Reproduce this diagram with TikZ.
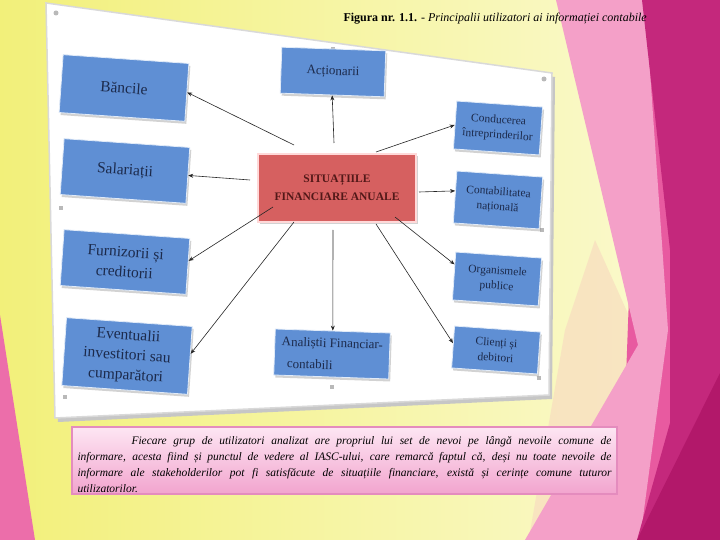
\documentclass[tikz,border=0pt]{standalone}
\usepackage{fontspec}
\setmainfont{Liberation Serif}
\usetikzlibrary{arrows.meta, positioning, shadows}

\definecolor{bgleft}{RGB}{242,240,122}
\definecolor{bgright}{RGB}{251,250,212}
\definecolor{peach}{RGB}{248,224,192}
\definecolor{pinklight}{RGB}{244,160,200}
\definecolor{pinkmid}{RGB}{232,90,160}
\definecolor{magenta1}{RGB}{196,40,124}
\definecolor{magenta2}{RGB}{178,24,106}
\definecolor{pinkleft}{RGB}{236,110,170}
\definecolor{boxblue}{RGB}{95,143,212}
\definecolor{boxedge}{RGB}{225,235,248}
\definecolor{boxtext}{RGB}{28,42,75}
\definecolor{boxred}{RGB}{214,96,96}
\definecolor{redtext}{RGB}{82,24,24}
\definecolor{notetop}{RGB}{253,230,243}
\definecolor{notebottom}{RGB}{242,164,206}
\definecolor{noteedge}{RGB}{228,140,190}

\begin{document}
\begin{tikzpicture}[x=1pt, y=-1pt]
  \useasboundingbox (0,0) rectangle (720,540);

  % Define styles for the boxes and arrows
  \tikzstyle{user}=[rectangle, fill=boxblue, draw=boxedge, line width=0.8pt, text=boxtext, align=center, inner sep=0pt,
                    drop shadow={shadow xshift=1.5pt, shadow yshift=-2.5pt, opacity=0.35}]
  \tikzstyle{leftcol}=[user, rotate=-4, minimum width=126pt, font=\fontsize{15.5}{20}\selectfont]
  \tikzstyle{rightcol}=[user, rotate=-4, minimum width=86pt, font=\fontsize{11.5}{15}\selectfont]
  \tikzstyle{midcol}=[user, rotate=-2, font=\fontsize{13}{22}\selectfont]
  \tikzstyle{arr}=[-{Stealth[length=5pt, width=4pt]}, line width=0.6pt, black!85]
  \tikzstyle{handle}=[fill=gray!55]

  % Slide background
  \shade[left color=bgleft, right color=bgright] (0,0) rectangle (720,540);
  \fill[pinkleft] (0,315) -- (35,540) -- (0,540) -- cycle;
  \fill[peach, opacity=0.8] (595,240) -- (642,345) -- (530,532) -- (565,330) -- cycle;
  \fill[pinkmid] (640,0) -- (690,0) -- (690,540) -- (620,540) -- cycle;
  \fill[pinklight] (556,0) -- (645,0) -- (668,330) -- (640,540) -- (525,540) -- (638,345) -- cycle;
  \fill[magenta1] (642,0) -- (720,0) -- (720,540) -- (637,540) -- (670,423) -- (670,250) -- cycle;
  \fill[magenta2] (720,373) -- (720,540) -- (637,540) -- cycle;

  % Caption
  \node[font=\fontsize{12}{14}\selectfont, anchor=west] (caption) at (340,19)
    {\textbf{Figura nr. 1.1.} - \textit{Principalii utilizatori ai informației contabile}};

  % White panel
  \fill[gray!45] (49,7) -- (555,77) -- (552,399) -- (58,422) -- cycle;
  \filldraw[fill=white, draw=gray!30, line width=1.5pt] (46,3) -- (552,73) -- (549,395) -- (55,418) -- cycle;

  % Selection handles
  \fill[handle] (56,13) circle (2.5);
  \fill[handle] (544,79) circle (2.5);
  \fill[handle] (59,206) rectangle +(4,4);
  \fill[handle] (331,47) rectangle +(4,4);
  \fill[handle] (540,228) rectangle +(4,4);
  \fill[handle] (63,395) rectangle +(4,4);
  \fill[handle] (330,385) rectangle +(4,4);
  \fill[handle] (537,376) rectangle +(4,4);

  % Central box
  \node[fill=boxred, draw=white!85!red, line width=1.5pt, text=redtext, align=center,
        minimum width=158pt, minimum height=68pt, inner sep=0pt,
        font=\bfseries\fontsize{11.5}{18}\selectfont,
        drop shadow={shadow xshift=1.5pt, shadow yshift=-2.5pt, opacity=0.35}] (sit) at (337,188)
    {SITUAȚIILE\\FINANCIARE ANUALE};

  % Users of the information
  \node[leftcol, minimum height=58pt] (banci) at (124,88) {Băncile};
  \node[leftcol, minimum height=56pt] (salariati) at (125,171) {Salariații};
  \node[leftcol, minimum height=56pt] (furnizori) at (125,262) {Furnizorii și\\creditorii};
  \node[leftcol, minimum height=68pt] (eventuali) at (127,356) {Eventualii\\investitori sau\\cumparători};
  \node[midcol, minimum width=104pt, minimum height=46pt] (actionari) at (333,72) {Acționarii};
  \node[midcol, minimum width=115pt, minimum height=46pt, align=left] (analisti) at (332,354)
    {Analiștii Financiar-\\\hspace*{6pt}contabili};
  \node[rightcol, minimum height=48pt] (conducere) at (498,128) {Conducerea\\întreprinderilor};
  \node[rightcol, minimum height=52pt] (contab) at (498,200) {Contabilitatea\\națională};
  \node[rightcol, minimum height=48pt] (organisme) at (497,279) {Organismele\\publice};
  \node[rightcol, minimum height=42pt] (clienti) at (496,350) {Clienți și\\debitori};

  % Start points of the arrows
  \coordinate (o-banci) at (294,145);
  \coordinate (o-actionari) at (334,143);
  \coordinate (o-conducere) at (376,152);
  \coordinate (o-salariati) at (250,180);
  \coordinate (o-contab) at (419,192);
  \coordinate (o-furnizori) at (273,207);
  \coordinate (o-eventuali) at (294,222);
  \coordinate (o-analisti) at (333,230);
  \coordinate (o-organisme) at (395,217);
  \coordinate (o-clienti) at (376,224);

  % Arrows
  \draw[arr] (o-banci) -- (banci.east);
  \draw[arr] (o-actionari) -- (actionari.south);
  \draw[arr] (o-conducere) -- (conducere.west);
  \draw[arr] (o-salariati) -- (salariati.east);
  \draw[arr] (o-contab) -- (contab.172);
  \draw[arr] (o-furnizori) -- (furnizori.5);
  \draw[arr] (o-eventuali) -- (eventuali.6);
  \draw[arr] (o-analisti) -- (analisti.north);
  \draw[arr] (o-organisme) -- (organisme.165);
  \draw[arr] (o-clienti) -- (clienti.175);

  % Note below the panel
  \node[top color=notetop, bottom color=notebottom, draw=noteedge, line width=1.5pt,
        minimum width=545pt, minimum height=67pt, inner sep=0pt] (notebox) at (344.5,460.5) {};
  \node[text width=534pt, align=justify, inner sep=0pt,
        font=\itshape\fontsize{11.5}{16}\selectfont] (note) at (344.5,465)
    {\hspace*{54pt}Fiecare grup de utilizatori analizat are propriul lui set de nevoi pe lângă nevoile comune de\linebreak
     informare, acesta fiind și punctul de vedere al IASC-ului, care remarcă faptul că, deși nu toate nevoile de\linebreak
     informare ale stakeholderilor pot fi satisfăcute de situațiile financiare, există și cerințe comune tuturor\linebreak
     utilizatorilor.};
\end{tikzpicture}
\end{document}
